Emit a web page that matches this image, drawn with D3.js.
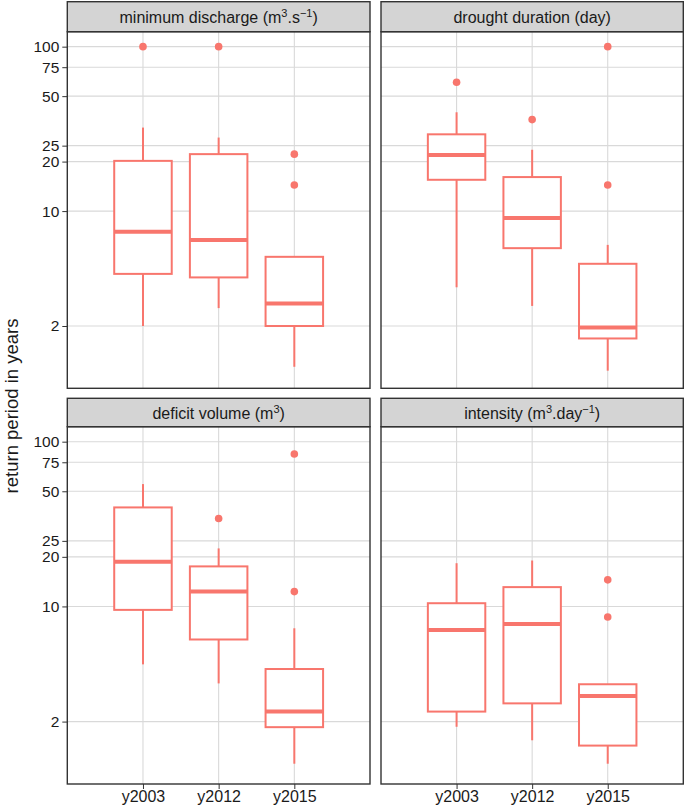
<!DOCTYPE html>
<html lang="en">
<head>
<meta charset="utf-8">
<title>Return period boxplots</title>
<script src="https://cdn.jsdelivr.net/npm/d3@7"></script>
<style>
  body { margin: 0; background: #fff; }
  text { font-family: "Liberation Sans", Arial, Helvetica, sans-serif; }
</style>
</head>
<body>
<script>
// categories and facets
var years = ["y2003", "y2012", "y2015"];
var panels = ["minimum discharge", "drought duration", "deficit volume", "intensity"];
var yTicks = [2, 10, 20, 25, 50, 75, 100];

// box stats per panel, one value per year
var whiskerLow  = [[2.0, 2.57, 1.13], [3.44, 2.65, 1.07], [4.45, 3.41, 1.11], [1.86, 1.54, 1.11]];
var q1          = [[4.15, 3.95, 2.0], [15.5, 5.95, 1.68], [9.53, 6.3, 1.85], [2.30, 2.58, 1.43]];
var median      = [[7.5, 6.68, 2.74], [21.9, 9.09, 1.96], [18.7, 12.3, 2.30], [7.2, 7.83, 2.86]];
var q3          = [[20.2, 22.2, 5.27], [29.3, 16.1, 4.78], [39.9, 17.5, 4.17], [10.46, 13.1, 3.37]];
var whiskerHigh = [[32.2, 28.0, 5.27], [39.9, 23.6, 6.23], [55.3, 22.5, 7.37], [18.3, 19.0, 3.37]];
var outliers    = [[[100], [100], [22.2, 14.4]],
                   [[60.8], [36.0], [100, 14.4]],
                   [[], [34.2], [84.2, 12.3]],
                   [[], [], [14.5, 8.63]]];

var width = 685, height = 810;
var col = "#F8766D";

var svg = d3.select("body").append("svg")
    .attr("width", width)
    .attr("height", height);

// panel geometry
var colX = [[67.3, 370], [381, 683.3]];
var rowY = [[1.7, 31.7, 388.3], [398.3, 426.7, 784]];

// strip titles with superscripts
function sup(t, s) {
    t.append("tspan").attr("font-size", 11).attr("dy", -6).text(s);
}
function base(t, s) {
    t.append("tspan").attr("dy", 6).text(s);
}
function stripTitle(t, i) {
    if (i == 0) { t.append("tspan").text("minimum discharge (m");
        sup(t, "3"); base(t, ".s"); sup(t, "\u22121"); base(t, ")"); }
    else if (i == 1) { t.text("drought duration (day)"); }
    else if (i == 2) { t.append("tspan").text("deficit volume (m");
        sup(t, "3"); base(t, ")"); }
    else { t.append("tspan").text("intensity (m");
        sup(t, "3"); base(t, ".day"); sup(t, "\u22121"); base(t, ")"); }
}

panels.forEach(function(p, i) {
    var c = i % 2, r = Math.floor(i / 2);
    var x0 = colX[c][0], x1 = colX[c][1];
    var sTop = rowY[r][0], pTop = rowY[r][1], pBot = rowY[r][2];

    var x = d3.scalePoint().domain(years).range([x0, x1]).padding(1);
    var y = d3.scaleLog().domain([0.836, 123.3]).range([pBot, pTop]);
    var bw = x.step() * 0.76;

    var g = svg.append("g");

    // gridlines
    g.selectAll(".hg").data(yTicks).enter().append("line")
        .attr("x1", x0).attr("x2", x1)
        .attr("y1", function(d) { return y(d); }).attr("y2", function(d) { return y(d); })
        .attr("stroke", "#d9d9d9").attr("stroke-width", 1.1);
    g.selectAll(".vg").data(years).enter().append("line")
        .attr("x1", function(d) { return x(d); }).attr("x2", function(d) { return x(d); })
        .attr("y1", pTop).attr("y2", pBot)
        .attr("stroke", "#d9d9d9").attr("stroke-width", 1.1);

    years.forEach(function(yr, j) {
        var cx = x(yr);
        // whiskers
        g.append("line").attr("x1", cx).attr("x2", cx)
            .attr("y1", y(q3[i][j])).attr("y2", y(whiskerHigh[i][j]))
            .attr("stroke", col).attr("stroke-width", 2);
        g.append("line").attr("x1", cx).attr("x2", cx)
            .attr("y1", y(q1[i][j])).attr("y2", y(whiskerLow[i][j]))
            .attr("stroke", col).attr("stroke-width", 2);
        // box + median
        g.append("rect")
            .attr("x", cx - bw / 2).attr("width", bw)
            .attr("y", y(q3[i][j])).attr("height", y(q1[i][j]) - y(q3[i][j]))
            .attr("fill", "#fff").attr("stroke", col).attr("stroke-width", 2);
        g.append("line").attr("x1", cx - bw / 2).attr("x2", cx + bw / 2)
            .attr("y1", y(median[i][j])).attr("y2", y(median[i][j]))
            .attr("stroke", col).attr("stroke-width", 4);
        g.selectAll(null).data(outliers[i][j]).enter().append("circle")
            .attr("cx", cx).attr("cy", function(d) { return y(d); })
            .attr("r", 3.8).attr("fill", col);
    });

    // panel border
    g.append("rect").attr("x", x0).attr("y", pTop)
        .attr("width", x1 - x0).attr("height", pBot - pTop)
        .attr("fill", "none").attr("stroke", "#333").attr("stroke-width", 1.4);

    // strip
    g.append("rect").attr("x", x0).attr("y", sTop)
        .attr("width", x1 - x0).attr("height", pTop - sTop)
        .attr("fill", "#d4d4d4").attr("stroke", "#333").attr("stroke-width", 1.4);
    var st = g.append("text")
        .attr("x", (x0 + x1) / 2).attr("y", (sTop + pTop) / 2 + 6)
        .attr("text-anchor", "middle").attr("font-size", 16).attr("fill", "#1a1a1a");
    stripTitle(st, i);

    // y axis on left column only
    if (c == 0) {
        var ya = g.append("g").attr("transform", "translate(" + x0 + ",0)")
            .call(d3.axisLeft(y).tickValues(yTicks).tickFormat(d3.format("d")).tickSize(5).tickPadding(3));
        ya.select(".domain").remove();
        ya.attr("font-size", null).attr("font-family", null);
        ya.selectAll("line").attr("stroke", "#333");
        ya.selectAll("text").attr("font-size", 15.5).attr("fill", "#1a1a1a");
    }
    // x axis on bottom row only
    if (r == 1) {
        var xa = g.append("g").attr("transform", "translate(0," + pBot + ")")
            .call(d3.axisBottom(x).tickSize(5).tickPadding(2));
        xa.select(".domain").remove();
        xa.attr("font-size", null).attr("font-family", null);
        xa.selectAll("line").attr("stroke", "#333");
        xa.selectAll("text").attr("font-size", 16).attr("fill", "#1a1a1a");
    }
});

// y axis title
svg.append("text")
    .attr("transform", "translate(18,406) rotate(-90)")
    .attr("text-anchor", "middle")
    .attr("font-size", 18.5)
    .attr("fill", "#1a1a1a")
    .text("return period in years");
</script>
</body>
</html>
